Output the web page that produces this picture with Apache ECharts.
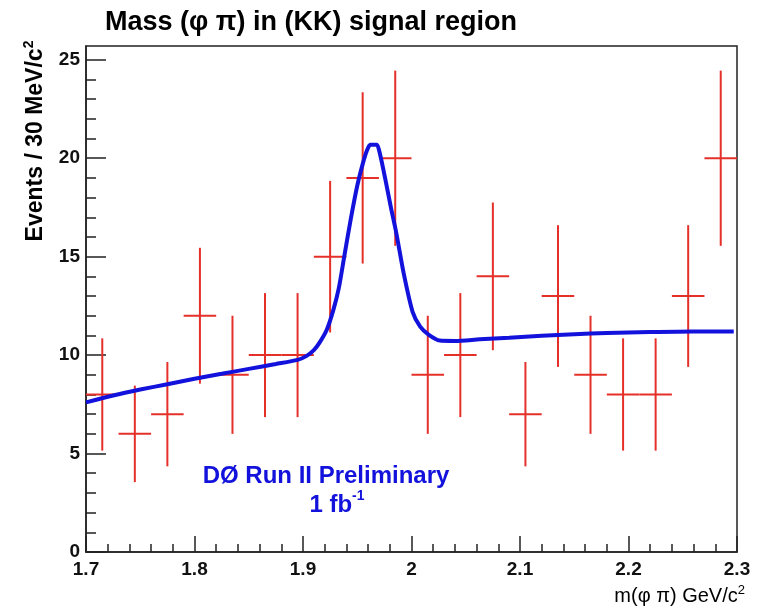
<!DOCTYPE html>
<html>
<head>
<meta charset="utf-8">
<script src="https://cdn.jsdelivr.net/npm/echarts@6/dist/echarts.min.js"></script>
<style>
html,body{margin:0;padding:0;background:#fff;}
#chart{width:764px;height:606px;}
</style>
</head>
<body>
<div id="chart"></div>
<script>
// ---- data ----
const binWidth = 0.03;
const binCenters = [1.715, 1.745, 1.775, 1.805, 1.835, 1.865, 1.895, 1.925, 1.955, 1.985,
                    2.015, 2.045, 2.075, 2.105, 2.135, 2.165, 2.195, 2.225, 2.255, 2.285];
const counts = [8, 6, 7, 12, 9, 10, 10, 15, 19, 20, 9, 10, 14, 7, 13, 9, 8, 8, 13, 20];
const errors = [2.85, 2.45, 2.65, 3.45, 3.0, 3.15, 3.15, 3.85, 4.35, 4.45,
                3.0, 3.15, 3.75, 2.65, 3.6, 3.0, 2.85, 2.85, 3.6, 4.45];
const fitX = [1.700, 1.725, 1.750, 1.775, 1.800, 1.825, 1.850, 1.875, 1.895, 1.903, 1.910,
              1.916, 1.922, 1.928, 1.933, 1.938, 1.944, 1.950, 1.955, 1.959, 1.962, 1.968,
              1.971, 1.976, 1.981, 1.986, 1.993, 2.001, 2.008, 2.016, 2.026, 2.040, 2.063,
              2.090, 2.120, 2.150, 2.180, 2.220, 2.260, 2.297];
const fitY = [7.60, 7.95, 8.25, 8.52, 8.80, 9.05, 9.30, 9.55, 9.76, 9.95, 10.25,
              10.70, 11.30, 12.30, 13.40, 15.00, 16.90, 18.60, 19.70, 20.40, 20.68, 20.68,
              20.20, 18.90, 17.50, 16.20, 14.10, 12.20, 11.45, 11.03, 10.74, 10.72, 10.80,
              10.88, 10.98, 11.06, 11.12, 11.17, 11.20, 11.20];
const xTicks = [1.7, 1.8, 1.9, 2.0, 2.1, 2.2, 2.3];
const yMajorTicks = [0, 5, 10, 15, 20, 25];
const yMinorTicks = [1, 2, 3, 4, 6, 7, 8, 9, 11, 12, 13, 14, 16, 17, 18, 19, 21, 22, 23, 24];

const FONT = '"Liberation Sans", Arial, Helvetica, sans-serif';
const RED = '#e5302a';
const BLUE = '#1212dc';

const chart = echarts.init(document.getElementById('chart'));
const option = {
  backgroundColor: '#ffffff',
  animation: false,
  textStyle: { fontFamily: FONT },
  grid: { left: 86, right: 27, top: 46, bottom: 54, show: true, borderColor: '#222', borderWidth: 1.5, backgroundColor: 'transparent' },
  xAxis: {
    type: 'value', min: xTicks[0], max: xTicks[xTicks.length - 1], interval: 0.1,
    axisLine: { show: true, onZero: false, lineStyle: { color: '#222', width: 1.5 } },
    axisTick: { show: true, inside: true, length: 16, lineStyle: { color: '#222', width: 1.5 } },
    minorTick: { show: true, splitNumber: 5, length: 8, lineStyle: { color: '#222', width: 1.5 } },
    axisLabel: { fontFamily: FONT, fontSize: 19, fontWeight: 'bold', color: '#111', margin: 8 },
    splitLine: { show: false }
  },
  yAxis: [{
    type: 'value', min: 0, max: 25.7,
    axisLine: { show: true, onZero: false, lineStyle: { color: '#222', width: 1.5 } },
    axisTick: { show: true, inside: true, length: 20, customValues: yMajorTicks, lineStyle: { color: '#222', width: 1.5 } },
    axisLabel: { customValues: yMajorTicks, fontFamily: FONT, fontSize: 19, fontWeight: 'bold', color: '#111', margin: 6 },
    splitLine: { show: false }
  }, {
    type: 'value', min: 0, max: 25.7, position: 'left',
    axisLine: { show: false },
    axisTick: { show: true, inside: true, length: 10, customValues: yMinorTicks, lineStyle: { color: '#222', width: 1.5 } },
    axisLabel: { show: false },
    splitLine: { show: false }
  }],
  series: [{
    type: 'custom',
    name: 'data',
    xAxisIndex: 0, yAxisIndex: 0,
    data: binCenters.map((c, i) => [c, counts[i], errors[i]]),
    encode: { x: 0, y: 1 },
    z: 2,
    renderItem: function (params, api) {
      const x = api.value(0), y = api.value(1), e = api.value(2);
      const pL = api.coord([x - binWidth / 2, y]);
      const pR = api.coord([x + binWidth / 2, y]);
      const pT = api.coord([x, y + e]);
      const pB = api.coord([x, y - e]);
      return {
        type: 'group',
        children: [
          { type: 'line', shape: { x1: pL[0], y1: pL[1], x2: pR[0], y2: pR[1] }, style: { stroke: RED, lineWidth: 2 } },
          { type: 'line', shape: { x1: pT[0], y1: pT[1], x2: pB[0], y2: pB[1] }, style: { stroke: RED, lineWidth: 2 } }
        ]
      };
    }
  }, {
    type: 'line',
    name: 'fit',
    xAxisIndex: 0, yAxisIndex: 0,
    data: fitX.map((x, i) => [x, fitY[i]]),
    showSymbol: false,
    smooth: 0.25,
    z: 5,
    lineStyle: { color: BLUE, width: 4 }
  }],
  graphic: [
    { type: 'text', x: 311, y: 23, style: { text: 'Mass (φ π) in (KK) signal region', font: 'bold 27px ' + FONT, fill: '#000', textAlign: 'center', textVerticalAlign: 'middle' } },
    { type: 'text', x: 35, y: 141, rotation: Math.PI / 2,
      style: { text: '{a|Events / 30 MeV/c}{s|2}', textAlign: 'center', textVerticalAlign: 'middle',
        rich: { a: { fontFamily: FONT, fontWeight: 'bold', fontSize: 23, fill: '#000', lineHeight: 25, verticalAlign: 'bottom' },
                s: { fontFamily: FONT, fontWeight: 'bold', fontSize: 14, fill: '#000', lineHeight: 25, verticalAlign: 'top' } } } },
    { type: 'text', x: 745, y: 595,
      style: { text: '{a|m(φ π) GeV/c}{s|2}', textAlign: 'right', textVerticalAlign: 'middle',
        rich: { a: { fontFamily: FONT, fontSize: 20, fill: '#000', lineHeight: 22, verticalAlign: 'bottom' },
                s: { fontFamily: FONT, fontSize: 13, fill: '#000', lineHeight: 22, verticalAlign: 'top' } } } },
    { type: 'text', x: 326, y: 476, style: { text: 'DØ Run II Preliminary', font: 'bold 24px ' + FONT, fill: BLUE, textAlign: 'center', textVerticalAlign: 'middle' } },
    { type: 'text', x: 337, y: 503,
      style: { text: '{a|1 fb}{s|-1}', textAlign: 'center', textVerticalAlign: 'middle',
        rich: { a: { fontFamily: FONT, fontWeight: 'bold', fontSize: 24, fill: BLUE, lineHeight: 28, verticalAlign: 'bottom' },
                s: { fontFamily: FONT, fontWeight: 'bold', fontSize: 14, fill: BLUE, lineHeight: 28, verticalAlign: 'top' } } } }
  ]
};
chart.setOption(option);
</script>
</body>
</html>
